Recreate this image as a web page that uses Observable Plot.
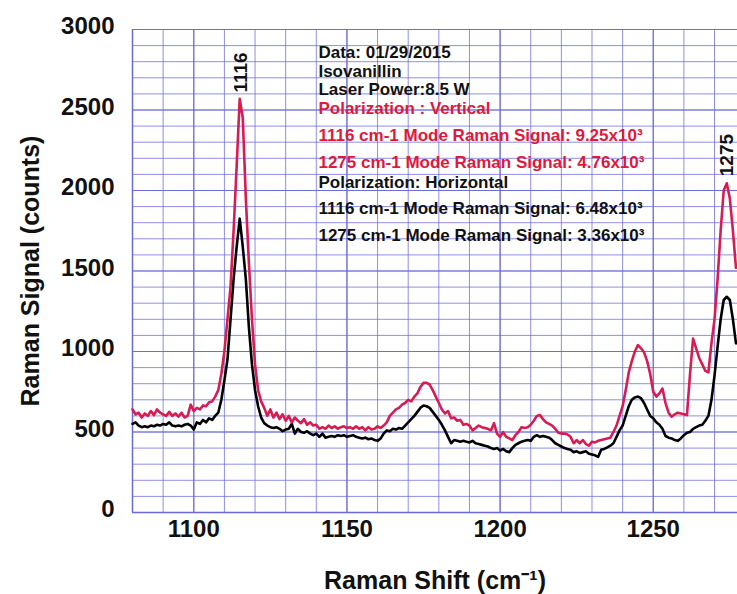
<!DOCTYPE html>
<html><head><meta charset="utf-8">
<script src="https://cdn.jsdelivr.net/npm/d3@7"></script>
<script src="https://cdn.jsdelivr.net/npm/@observablehq/plot@0.6"></script>
<style>html,body{margin:0;padding:0;background:#fff}svg{display:block}</style>
</head><body><div id="chart"></div><script>
// Raman shift sampling (cm-1), 1 cm-1 steps
const shift = d3.range(1080, 1278);
// Polarization: Vertical (red)
const vertical = [
640,610,620,590,615,600,630,605,640,620,
610,600,625,600,615,595,620,590,600,670,
630,650,640,665,660,685,690,720,760,860,
1000,1200,1400,1750,2150,2570,2450,1950,1550,1200,
920,760,690,650,600,640,590,620,580,610,
570,600,560,590,570,555,580,545,560,540,
545,520,530,520,540,525,535,520,530,535,
525,530,520,535,520,530,510,530,515,520,
535,525,540,560,600,620,640,650,670,680,
700,690,720,740,780,805,805,795,760,720,
680,640,615,630,585,590,570,575,545,550,
540,510,525,540,530,525,520,510,555,490,
470,500,470,460,450,480,500,530,525,530,
545,570,600,605,580,560,550,540,520,495,
490,490,485,470,430,450,430,450,425,415,
440,435,445,450,455,460,465,500,540,600,
660,760,870,940,1000,1040,1020,995,940,860,
750,720,740,770,680,620,595,610,620,615,
610,605,860,1080,1020,960,920,880,870,1050,
1200,1450,1750,2000,2045,1950,1750,1520
];
// Polarization: Horizontal (black)
const horizontal = [
550,560,540,530,535,530,540,535,545,540,
550,545,560,540,535,540,535,545,550,540,
515,560,550,575,560,585,575,600,620,700,
820,950,1200,1450,1650,1825,1650,1450,1150,920,
760,660,590,555,540,530,525,530,520,505,
515,520,550,490,520,500,495,505,490,480,
490,470,490,465,470,475,470,480,475,480,
470,475,480,470,465,460,465,455,460,450,
445,460,490,510,505,520,515,525,520,540,
560,580,600,625,650,665,660,650,625,600,
575,545,510,470,430,450,445,440,445,440,
435,445,430,425,420,415,410,400,395,400,
385,395,380,375,400,420,430,440,445,450,
445,470,480,470,475,470,465,450,430,420,
410,400,395,390,375,380,370,375,380,365,
360,355,345,390,395,405,415,430,470,510,
540,600,660,700,715,720,710,680,640,600,
585,560,545,520,475,465,460,450,445,460,
480,495,500,520,530,540,545,570,600,700,
850,1030,1200,1320,1340,1320,1200,1050
];
const xTicks = [1100, 1150, 1200, 1250];
const yTicks = [0, 500, 1000, 1500, 2000, 2500, 3000];
const xGrid = d3.range(1080, 1280, 10);
const yGrid = d3.range(0, 3001, 100);

const notes = [
  {t: "Data: 01/29/2015", y: 2857, c: "#111"},
  {t: "Isovanillin", y: 2739, c: "#111"},
  {t: "Laser Power:8.5 W", y: 2627, c: "#111"},
  {t: "Polarization : Vertical", y: 2512, c: "#e0183c"},
  {t: "1116 cm-1 Mode Raman Signal: 9.25x10\u00B3", y: 2342, c: "#e0183c"},
  {t: "1275 cm-1 Mode Raman Signal: 4.76x10\u00B3", y: 2174, c: "#e0183c"},
  {t: "Polarization: Horizontal", y: 2050, c: "#111"},
  {t: "1116 cm-1 Mode Raman Signal: 6.48x10\u00B3", y: 1888, c: "#111"},
  {t: "1275 cm-1 Mode Raman Signal: 3.36x10\u00B3", y: 1720, c: "#111"}
];
const noteX = 1140.7;
const peaks = [{t: "1116", x: 1115.3, y: 2733}, {t: "1275", x: 1274.0, y: 2220}];

const vData = shift.map((s, i) => ({s, v: vertical[i]}));
const hData = shift.map((s, i) => ({s, v: horizontal[i]}));
const gridColor = "#6a6ad8";
const font = "'Liberation Sans', Arial, Helvetica, sans-serif";

const chart = Plot.plot({
  width: 737, height: 594,
  marginLeft: 132, marginTop: 29, marginBottom: 82, marginRight: 0,
  style: {fontFamily: font, fontWeight: "bold", background: "#fff", color: "#111"},
  x: {domain: [1080, 1277.5]},
  y: {domain: [0, 3000]},
  marks: [
    Plot.ruleY(yGrid, {stroke: gridColor, strokeWidth: 1, strokeOpacity: 0.75}),
    Plot.ruleX(xGrid, {stroke: gridColor, strokeWidth: 1, strokeOpacity: 0.75}),
    Plot.ruleY(yTicks, {stroke: gridColor, strokeWidth: 1.2, strokeOpacity: 0.9}),
    Plot.ruleX(xTicks, {stroke: gridColor, strokeWidth: 1.2, strokeOpacity: 0.9}),
    Plot.ruleX([1080], {stroke: gridColor, strokeWidth: 1.5}),
    Plot.ruleY([0], {stroke: gridColor, strokeWidth: 1.5}),
    Plot.axisX({ticks: xTicks, tickSize: 0, tickPadding: 7, fontSize: 24, fontWeight: "bold", tickFormat: d => String(d), label: null}),
    Plot.axisY({ticks: yTicks, tickSize: 0, tickPadding: 18, fontSize: 24, fontWeight: "bold", tickFormat: d => String(d), dy: -3, label: null}),
    Plot.line(hData, {x: "s", y: "v", stroke: "#000", strokeWidth: 2.6}),
    Plot.line(vData, {x: "s", y: "v", stroke: "#d81b52", strokeWidth: 2.6}),
    Plot.text(notes, {x: () => noteX, y: "y", text: "t", fill: "c", textAnchor: "start", fontSize: 17, fontWeight: "bold"}),
    Plot.text(peaks, {x: "x", y: "y", text: "t", rotate: -90, fill: "#111", fontSize: 19, fontWeight: "bold"}),
    Plot.text(["Raman Shift (cm\u207B\u00B9)"], {frameAnchor: "bottom", textAnchor: "middle", lineAnchor: "middle", dy: 68, fontSize: 25, fontWeight: "bold", fill: "#111"}),
    Plot.text(["Raman Signal (counts)"], {frameAnchor: "left", textAnchor: "middle", lineAnchor: "middle", dx: -102, rotate: -90, fontSize: 25, fontWeight: "bold", fill: "#111"})
  ]
});
document.getElementById("chart").appendChild(chart);
</script></body></html>
